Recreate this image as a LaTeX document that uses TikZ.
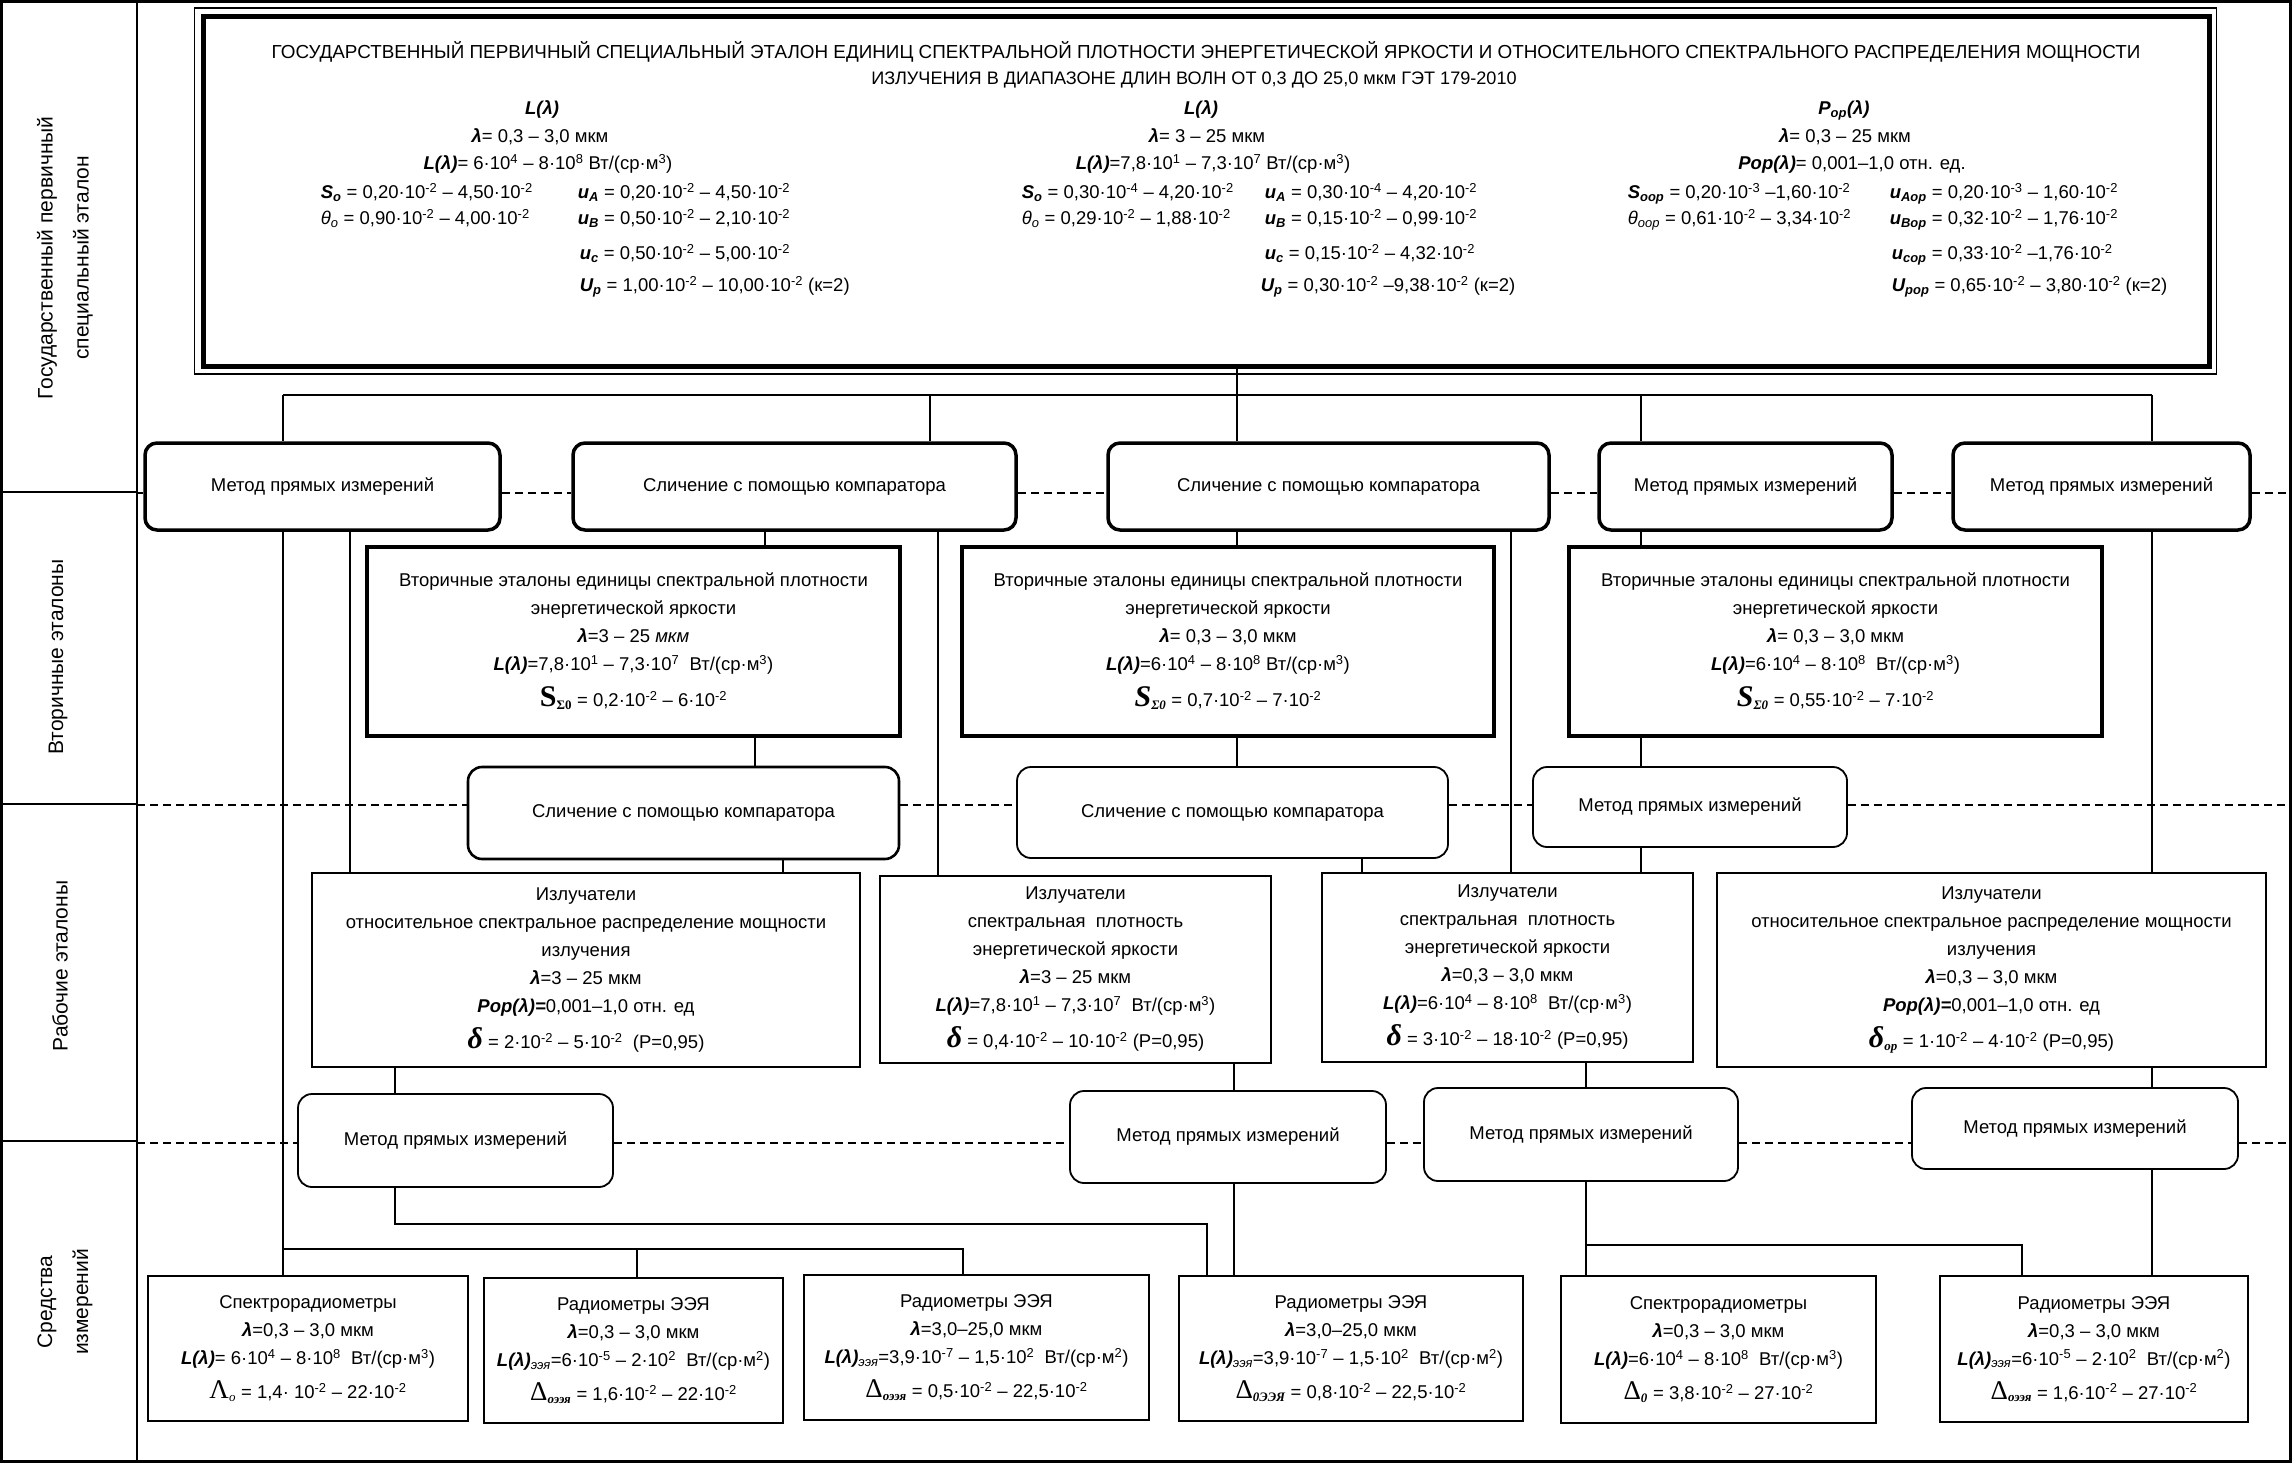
\documentclass[tikz,border=0pt]{standalone}
\usepackage{fontspec}
\setmainfont{Liberation Sans}
\newfontfamily\serif{Liberation Serif}
\newcommand{\bfi}[1]{{\bfseries\itshape #1}}
\newcommand{\sps}[1]{\textsuperscript{#1}}
\newcommand{\sbs}[1]{\textsubscript{#1}}
\newcommand{\lm}{\bfi{λ}}
\newcommand{\Lm}{\bfi{L(λ)}}
\newcommand{\tm}[1]{·10\sps{#1}}
\newcommand{\sdelta}{{\serif\bfseries\itshape\fontsize{30}{28}\selectfont δ}}
\newcommand{\SSig}{{\serif\bfseries\fontsize{30}{28}\selectfont S}\sbs{\serif\bfseries Σ0}}
\newcommand{\SSigi}{{\serif\bfseries\itshape\fontsize{30}{28}\selectfont S}\sbs{\serif\bfseries\itshape Σ0}}
\newcommand{\Dl}[1]{{\serif\fontsize{27}{28}\selectfont Δ}\sbs{\serif\bfseries\itshape #1}}
\begin{document}
\begin{tikzpicture}[x=1pt,y=-1pt,line width=1.6pt,font=\fontsize{18.5}{28}\selectfont,
  rbox/.style={draw,rounded corners=12pt,inner sep=0pt,align=center,line width=3.5pt},
  rboxt/.style={draw,rounded corners=14pt,inner sep=0pt,align=center,line width=1.8pt},
  sbox/.style={draw,line width=4pt,align=center,inner sep=0pt},
  wbox/.style={draw,line width=2pt,align=center,inner sep=0pt},
  bbox/.style={draw,line width=2pt,align=center,inner sep=0pt},
  tx/.style={inner sep=0pt},
  dsh/.style={line width=1.6pt,dash pattern=on 8pt off 5pt},
  lab/.style={rotate=90,align=center,font=\fontsize{21}{36}\selectfont}]
\useasboundingbox (0,0) rectangle (2294,1463);
% frame and left column
\draw[line width=3pt] (1.5,1.5) rectangle (2290.5,1461.5);
\draw[line width=2pt] (137,0) -- (137,1463);
\draw (0,492) -- (137,492);
\draw (0,804) -- (137,804);
\draw (0,1141) -- (137,1141);
\node[lab] (lab1) at (65,258) {Государственный первичный\\специальный эталон};
\node[lab] (lab2) at (58,657) {Вторичные эталоны};
\node[lab] (lab3) at (60,966) {Рабочие эталоны};
\node[lab] (lab4) at (65,1302) {Средства\\измерений};
% top box
\node[draw,line width=5pt,minimum width=2006,minimum height=350,inner sep=0pt] (top) at (1206,191.5) {};
\draw[line width=1.5pt] ([shift={(-6,-6)}]top.north west) rectangle ([shift={(5,5)}]top.south east);
\node[tx,anchor=base,font=\fontsize{18.85}{28}\selectfont] (t1) at (1206,58.5) {ГОСУДАРСТВЕННЫЙ ПЕРВИЧНЫЙ СПЕЦИАЛЬНЫЙ ЭТАЛОН ЕДИНИЦ СПЕКТРАЛЬНОЙ ПЛОТНОСТИ ЭНЕРГЕТИЧЕСКОЙ ЯРКОСТИ И ОТНОСИТЕЛЬНОГО СПЕКТРАЛЬНОГО РАСПРЕДЕЛЕНИЯ МОЩНОСТИ};
\node[tx,anchor=base,font=\fontsize{18.1}{28}\selectfont] (t2) at (1194,84.5) {ИЗЛУЧЕНИЯ В ДИАПАЗОНЕ ДЛИН ВОЛН ОТ 0,3 ДО 25,0 мкм ГЭТ 179-2010};
% column 1
\node[tx,anchor=base] (c1t) at (542,114.5) {\Lm};
\node[tx,anchor=base] (c1l) at (540,142.5) {\lm= 0,3 – 3,0 мкм};
\node[tx,anchor=base] (c1L) at (548,169.5) {\Lm= 6\tm{4} – 8\tm{8} Вт/(ср·м\sps{3})};
\node[tx,anchor=base west] (c1s) at (320,198.5) {\bfi{S}\sbs{\bfi{о}} = 0,20\tm{-2} – 4,50\tm{-2}};
\node[tx,anchor=base west] (c1ua) at (577,198.5) {\bfi{u}\sbs{\bfi{A}} = 0,20\tm{-2} – 4,50\tm{-2}};
\node[tx,anchor=base west] (c1th) at (320,224.5) {{\itshape θ}\sbs{\itshape о} = 0,90\tm{-2} – 4,00\tm{-2}};
\node[tx,anchor=base west] (c1ub) at (577,224.5) {\bfi{u}\sbs{\bfi{B}} = 0,50\tm{-2} – 2,10\tm{-2}};
\node[tx,anchor=base west] (c1uc) at (579,259.5) {\bfi{u}\sbs{\bfi{c}} = 0,50\tm{-2} – 5,00\tm{-2}};
\node[tx,anchor=base west] (c1up) at (579,291.5) {\bfi{U}\sbs{\bfi{p}} = 1,00\tm{-2} – 10,00\tm{-2} (к=2)};
% column 2
\node[tx,anchor=base] (c2t) at (1201,114.5) {\Lm};
\node[tx,anchor=base] (c2l) at (1207,142.5) {\lm= 3 – 25 мкм};
\node[tx,anchor=base] (c2L) at (1213,169.5) {\Lm=7,8\tm{1} – 7,3\tm{7} Вт/(ср·м\sps{3})};
\node[tx,anchor=base west] (c2s) at (1021,198.5) {\bfi{S}\sbs{\bfi{о}} = 0,30\tm{-4} – 4,20\tm{-2}};
\node[tx,anchor=base west] (c2ua) at (1264,198.5) {\bfi{u}\sbs{\bfi{A}} = 0,30\tm{-4} – 4,20\tm{-2}};
\node[tx,anchor=base west] (c2th) at (1021,224.5) {{\itshape θ}\sbs{\itshape о} = 0,29\tm{-2} – 1,88\tm{-2}};
\node[tx,anchor=base west] (c2ub) at (1264,224.5) {\bfi{u}\sbs{\bfi{B}} = 0,15\tm{-2} – 0,99\tm{-2}};
\node[tx,anchor=base west] (c2uc) at (1264,259.5) {\bfi{u}\sbs{\bfi{c}} = 0,15\tm{-2} – 4,32\tm{-2}};
\node[tx,anchor=base west] (c2up) at (1260,291.5) {\bfi{U}\sbs{\bfi{p}} = 0,30\tm{-2} –9,38\tm{-2} (к=2)};
% column 3
\node[tx,anchor=base] (c3t) at (1844,114.5) {\bfi{P}\sbs{\bfi{ор}}\bfi{(λ)}};
\node[tx,anchor=base] (c3l) at (1845,142.5) {\lm= 0,3 – 25 мкм};
\node[tx,anchor=base] (c3L) at (1852,169.5) {\bfi{Pop(λ)}= 0,001–1,0 отн. ед.};
\node[tx,anchor=base west] (c3s) at (1627,198.5) {\bfi{S}\sbs{\bfi{оор}} = 0,20\tm{-3} –1,60\tm{-2}};
\node[tx,anchor=base west] (c3ua) at (1889,198.5) {\bfi{u}\sbs{\bfi{Aор}} = 0,20\tm{-3} – 1,60\tm{-2}};
\node[tx,anchor=base west] (c3th) at (1627,224.5) {{\itshape θ}\sbs{\itshape оор} = 0,61\tm{-2} – 3,34\tm{-2}};
\node[tx,anchor=base west] (c3ub) at (1889,224.5) {\bfi{u}\sbs{\bfi{Bор}} = 0,32\tm{-2} – 1,76\tm{-2}};
\node[tx,anchor=base west] (c3uc) at (1891,259.5) {\bfi{u}\sbs{\bfi{cор}} = 0,33\tm{-2} –1,76\tm{-2}};
\node[tx,anchor=base west] (c3up) at (1891,291.5) {\bfi{U}\sbs{\bfi{pор}} = 0,65\tm{-2} – 3,80\tm{-2} (к=2)};
% row 1 methods
\node[rbox,minimum width=355,minimum height=87] (R1a) at (322.5,486.5) {Метод прямых измерений};
\node[rbox,minimum width=443,minimum height=87] (R1b) at (794.5,486.5) {Сличение с помощью компаратора};
\node[rbox,minimum width=441,minimum height=87] (R1c) at (1328.5,486.5) {Сличение с помощью компаратора};
\node[rbox,minimum width=293,minimum height=87] (R1d) at (1745.5,486.5) {Метод прямых измерений};
\node[rbox,minimum width=297,minimum height=87] (R1e) at (2101.5,486.5) {Метод прямых измерений};
% secondary standards
\node[sbox,minimum width=533,minimum height=189] (S1) at (633.5,641.5) {Вторичные эталоны единицы спектральной плотности\\энергетической яркости\\\lm=3 – 25 {\itshape мкм}\\\Lm=7,8\tm{1} – 7,3\tm{7}\ \ Вт/(ср·м\sps{3})\\[8pt]\SSig{} = 0,2\tm{-2} – 6\tm{-2}};
\node[sbox,minimum width=532,minimum height=189] (S2) at (1228,641.5) {Вторичные эталоны единицы спектральной плотности\\энергетической яркости\\\lm= 0,3 – 3,0 мкм\\\Lm=6\tm{4} – 8\tm{8} Вт/(ср·м\sps{3})\\[8pt]\SSigi{} = 0,7\tm{-2} – 7\tm{-2}};
\node[sbox,minimum width=533,minimum height=189] (S3) at (1835.5,641.5) {Вторичные эталоны единицы спектральной плотности\\энергетической яркости\\\lm= 0,3 – 3,0 мкм\\\Lm=6\tm{4} – 8\tm{8}\ \ Вт/(ср·м\sps{3})\\[8pt]\SSigi{} = 0,55\tm{-2} – 7\tm{-2}};
% row 3 methods
\node[rboxt,line width=2.6pt,minimum width=431,minimum height=92] (R3a) at (683.5,813) {Сличение с помощью компаратора};
\node[rboxt,minimum width=431,minimum height=91] (R3b) at (1232.5,812.5) {Сличение с помощью компаратора};
\node[rboxt,minimum width=314,minimum height=80] (R3c) at (1690,807) {Метод прямых измерений};
% working standards
\node[wbox,line width=2.6pt,minimum width=548,minimum height=194] (W1) at (586,970) {Излучатели\\относительное спектральное распределение мощности\\излучения\\\lm=3 – 25 мкм\\\bfi{Pop(λ)=}0,001–1,0 отн. ед\\[8pt]\sdelta{} = 2\tm{-2} – 5\tm{-2}\ \ (P=0,95)};
\node[wbox,minimum width=391,minimum height=187] (W2) at (1075.5,969.5) {Излучатели\\спектральная\ \ плотность\\энергетической яркости\\\lm=3 – 25 мкм\\\Lm=7,8\tm{1} – 7,3\tm{7}\ \ Вт/(ср·м\sps{3})\\[8pt]\sdelta{} = 0,4\tm{-2} – 10\tm{-2} (P=0,95)};
\node[wbox,minimum width=371,minimum height=189] (W3) at (1507.5,967.5) {Излучатели\\спектральная\ \ плотность\\энергетической яркости\\\lm=0,3 – 3,0 мкм\\\Lm=6\tm{4} – 8\tm{8}\ \ Вт/(ср·м\sps{3})\\[8pt]\sdelta{} = 3\tm{-2} – 18\tm{-2} (P=0,95)};
\node[wbox,line width=2.6pt,minimum width=549,minimum height=194] (W4) at (1991.5,970) {Излучатели\\относительное спектральное распределение мощности\\излучения\\\lm=0,3 – 3,0 мкм\\\bfi{Pop(λ)=}0,001–1,0 отн. ед\\[8pt]\sdelta\sbs{\serif\bfseries\itshape ор} = 1\tm{-2} – 4\tm{-2} (P=0,95)};
% row 4 methods
\node[rboxt,minimum width=315,minimum height=93] (R4a) at (455.5,1140.5) {Метод прямых измерений};
\node[rboxt,minimum width=316,minimum height=92] (R4b) at (1228,1137) {Метод прямых измерений};
\node[rboxt,minimum width=314,minimum height=93] (R4c) at (1581,1134.5) {Метод прямых измерений};
\node[rboxt,minimum width=326,minimum height=81] (R4d) at (2075,1128.5) {Метод прямых измерений};
% measuring instruments
\node[bbox,minimum width=320,minimum height=145] (B1) at (308,1348.5) {Спектрорадиометры\\\lm=0,3 – 3,0 мкм\\\Lm= 6\tm{4} – 8\tm{8}\ \ Вт/(ср·м\sps{3})\\[6pt]{\serif\fontsize{27}{28}\selectfont Λ}\sbs{\serif\itshape о} = 1,4· 10\sps{-2} – 22\tm{-2}};
\node[bbox,minimum width=299,minimum height=145] (B2) at (633.5,1350.5) {Радиометры ЭЭЯ\\\lm=0,3 – 3,0 мкм\\\Lm\sbs{\itshape ээя}=6\tm{-5} – 2\tm{2}\ \ Вт/(ср·м\sps{2})\\[6pt]\Dl{оээя} = 1,6\tm{-2} – 22\tm{-2}};
\node[bbox,minimum width=345,minimum height=145] (B3) at (976.5,1347.5) {Радиометры ЭЭЯ\\\lm=3,0–25,0 мкм\\\Lm\sbs{\itshape ээя}=3,9\tm{-7} – 1,5\tm{2}\ \ Вт/(ср·м\sps{2})\\[6pt]\Dl{оээя} = 0,5\tm{-2} – 22,5\tm{-2}};
\node[bbox,minimum width=344,minimum height=145] (B4) at (1351,1348.5) {Радиометры ЭЭЯ\\\lm=3,0–25,0 мкм\\\Lm\sbs{\itshape ээя}=3,9\tm{-7} – 1,5\tm{2}\ \ Вт/(ср·м\sps{2})\\[6pt]\Dl{0ЭЭЯ} = 0,8\tm{-2} – 22,5\tm{-2}};
\node[bbox,minimum width=315,minimum height=147] (B5) at (1718.5,1349.5) {Спектрорадиометры\\\lm=0,3 – 3,0 мкм\\\Lm=6\tm{4} – 8\tm{8}\ \ Вт/(ср·м\sps{3})\\[6pt]\Dl{0} = 3,8\tm{-2} – 27\tm{-2}};
\node[bbox,minimum width=308,minimum height=146] (B6) at (2094,1349) {Радиометры ЭЭЯ\\\lm=0,3 – 3,0 мкм\\\Lm\sbs{\itshape ээя}=6\tm{-5} – 2\tm{2}\ \ Вт/(ср·м\sps{2})\\[6pt]\Dl{оээя} = 1,6\tm{-2} – 27\tm{-2}};
% coordinates
\coordinate (bus) at (0,395);
\coordinate (hA) at (0,1249);
\coordinate (hB) at (0,1224);
\coordinate (hC) at (0,1245);
\coordinate (xA) at (283,0);
\coordinate (xB) at (350,0);
\coordinate (xC) at (930,0);
\coordinate (xD) at (765,0);
\coordinate (xE) at (938,0);
\coordinate (xF) at (755,0);
\coordinate (xG) at (783,0);
\coordinate (xH) at (1237,0);
\coordinate (xI) at (1511,0);
\coordinate (xJ) at (1362,0);
\coordinate (xK) at (1641,0);
\coordinate (xL) at (2152,0);
\coordinate (xM) at (395,0);
\coordinate (xO) at (1207,0);
\coordinate (xP) at (1234,0);
\coordinate (xQ) at (1586,0);
\coordinate (xR) at (2022,0);
\coordinate (xS) at (637,0);
\coordinate (xT) at (963,0);
% connectors
\draw (xA |- bus) -- (xL |- bus);
\draw (top.south -| xH) -- (R1c.north -| xH);
\draw (xA |- bus) -- (R1a.north -| xA);
\draw (xC |- bus) -- (R1b.north -| xC);
\draw (xK |- bus) -- (R1d.north -| xK);
\draw (xL |- bus) -- (R1e.north -| xL);
\draw (R1a.south -| xA) -- (B1.north -| xA);
\draw (R1a.south -| xB) -- (W1.north -| xB);
\draw (R1b.south -| xD) -- (S1.north -| xD);
\draw (R1b.south -| xE) -- (W2.north -| xE);
\draw (S1.south -| xF) -- (R3a.north -| xF);
\draw (R3a.south -| xG) -- (W1.north -| xG);
\draw (R1c.south -| xH) -- (S2.north -| xH);
\draw (S2.south -| xH) -- (R3b.north -| xH);
\draw (R1c.south -| xI) -- (W3.north -| xI);
\draw (R3b.south -| xJ) -- (W3.north -| xJ);
\draw (R1d.south -| xK) -- (S3.north -| xK);
\draw (S3.south -| xK) -- (R3c.north -| xK);
\draw (R3c.south -| xK) -- (W3.north -| xK);
\draw (R1e.south -| xL) -- (W4.north -| xL);
\draw (W4.south -| xL) -- (R4d.north -| xL);
\draw (R4d.south -| xL) -- (B6.north -| xL);
\draw (W1.south -| xM) -- (R4a.north -| xM);
\draw (R4a.south -| xM) -- (xM |- hB) -- (xO |- hB) -- (B4.north -| xO);
\draw (W2.south -| xP) -- (R4b.north -| xP);
\draw (R4b.south -| xP) -- (B4.north -| xP);
\draw (W3.south -| xQ) -- (R4c.north -| xQ);
\draw (R4c.south -| xQ) -- (B5.north -| xQ);
\draw (xQ |- hC) -- (xR |- hC) -- (B6.north -| xR);
\draw (xA |- hA) -- (xT |- hA) -- (B3.north -| xT);
\draw (xS |- hA) -- (B2.north -| xS);
% dashed level lines
\coordinate (d1) at (137,493);
\coordinate (d1r) at (2290,493);
\coordinate (d2) at (137,805);
\coordinate (d2r) at (2290,805);
\coordinate (d3) at (137,1143);
\coordinate (d3r) at (2290,1143);
\draw[dsh] (d1) -- (R1a.west |- d1);
\draw[dsh] (R1a.east |- d1) -- (R1b.west |- d1);
\draw[dsh] (R1b.east |- d1) -- (R1c.west |- d1);
\draw[dsh] (R1c.east |- d1) -- (R1d.west |- d1);
\draw[dsh] (R1d.east |- d1) -- (R1e.west |- d1);
\draw[dsh] (R1e.east |- d1) -- (d1r);
\draw[dsh] (d2) -- (R3a.west |- d2);
\draw[dsh] (R3a.east |- d2) -- (R3b.west |- d2);
\draw[dsh] (R3b.east |- d2) -- (R3c.west |- d2);
\draw[dsh] (R3c.east |- d2) -- (d2r);
\draw[dsh] (d3) -- (R4a.west |- d3);
\draw[dsh] (R4a.east |- d3) -- (R4b.west |- d3);
\draw[dsh] (R4b.east |- d3) -- (R4c.west |- d3);
\draw[dsh] (R4c.east |- d3) -- (R4d.west |- d3);
\draw[dsh] (R4d.east |- d3) -- (d3r);
\end{tikzpicture}
\end{document}
